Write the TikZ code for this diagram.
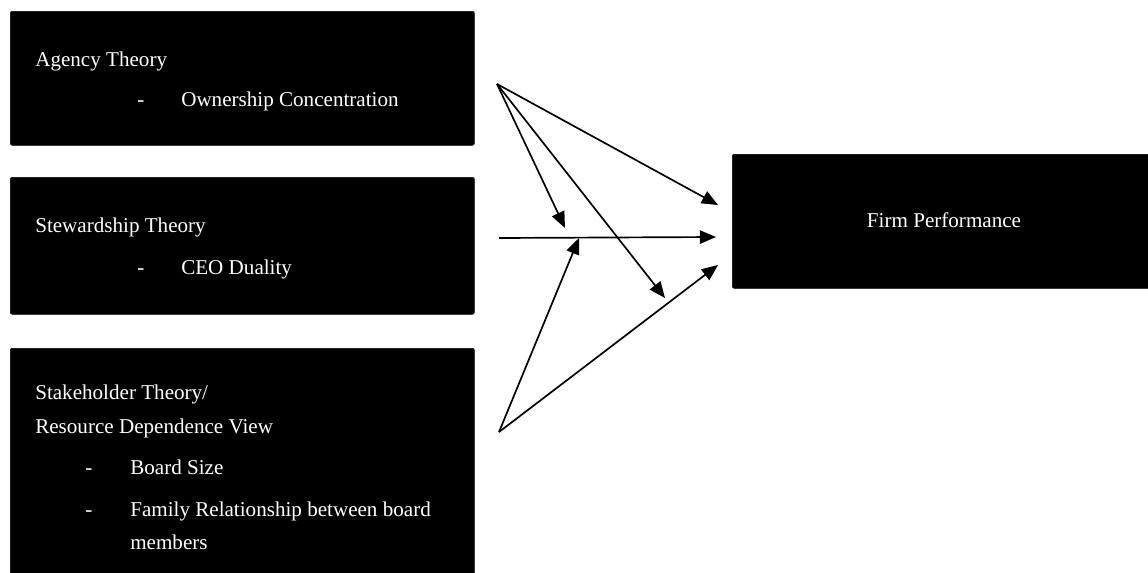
\documentclass[tikz,border=0pt]{standalone}
\usepackage{fontspec}
\setmainfont{Liberation Serif}
\usetikzlibrary{arrows.meta,positioning}
\tikzset{
  theorybox/.style={draw=black, fill=black, rounded corners=1.5pt, anchor=north west, inner sep=0pt},
  boxtext/.style={text=white, anchor=base west, inner sep=0pt, font=\fontsize{15}{18}\selectfont},
  link/.style={line width=1.2pt, -{Triangle[length=11.5pt,width=9.5pt]}}
}

\begin{document}
\begin{tikzpicture}[x=0.025cm, y=-0.025cm]
\useasboundingbox (0,0) rectangle (1148,572);

% Theory boxes
\node[theorybox, minimum width=11.6cm, minimum height=3.35cm] (agency) at (10,11) {};
\node[theorybox, minimum width=11.6cm, minimum height=3.425cm] (steward) at (10,177) {};
\node[theorybox, minimum width=11.6cm, minimum height=6cm] (stake) at (10,348) {};
\node[theorybox, minimum width=11cm, minimum height=3.35cm] (firm) at (732,154) {};

% Texts
\node[boxtext] (agt) at (35,66) {Agency Theory};
\node[boxtext] (agd) at (137,106) {-};
\node[boxtext] (agi) at (181,106) {Ownership Concentration};

\node[boxtext] (stt) at (35,232) {Stewardship Theory};
\node[boxtext] (std) at (137,274) {-};
\node[boxtext] (sti) at (181,274) {CEO Duality};

\node[boxtext] (skt) at (35,399) {Stakeholder Theory/};
\node[boxtext] (skv) at (35,433) {Resource Dependence View};
\node[boxtext] (skd1) at (85,474) {-};
\node[boxtext] (ski1) at (130,474) {Board Size};
\node[boxtext] (skd2) at (85,516) {-};
\node[boxtext] (ski2) at (130,516) {Family Relationship between board};
\node[boxtext] (ski3) at (130,549) {members};

\node[boxtext, anchor=base] (fpt) at (944,227) {Firm Performance};

% Arrow ends
\coordinate (a0) at (497,84);
\coordinate (h0) at (499,238);
\coordinate (b0) at (499,432);
\coordinate (fp1) at (718,205);
\coordinate (fp2) at (716,237);
\coordinate (fp3) at (718,265);
\coordinate (m1) at (565,228);
\coordinate (m2) at (579,238);
\coordinate (m3) at (665,298);

\draw[link] (a0) -- (fp1);
\draw[link] (a0) -- (m1);
\draw[link] (a0) -- (m3);
\draw[link] (h0) -- (fp2);
\draw[link] (b0) -- (m2);
\draw[link] (b0) -- (fp3);
\end{tikzpicture}
\end{document}
